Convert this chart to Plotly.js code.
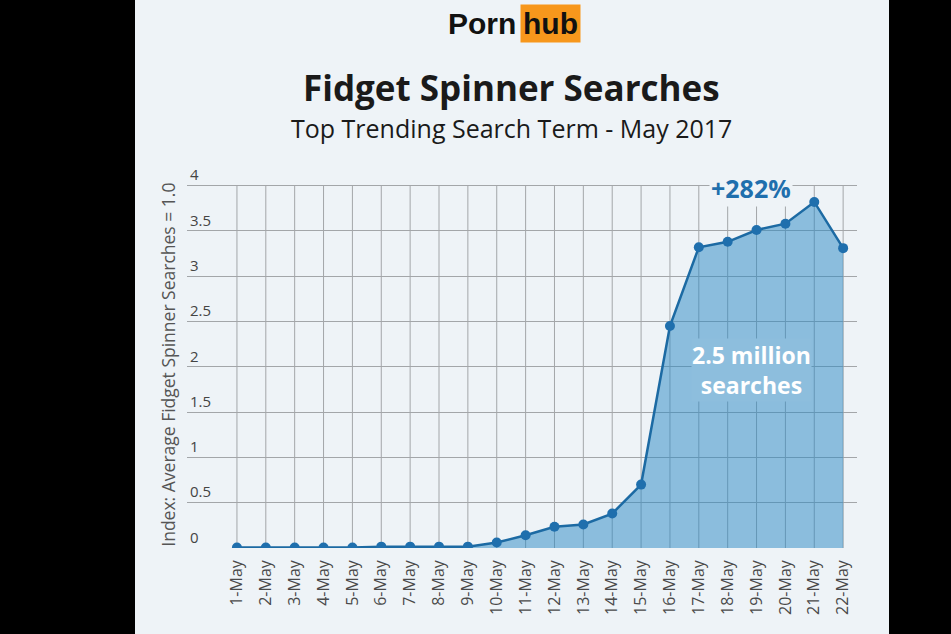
<!DOCTYPE html>
<html><head><meta charset="utf-8">
<script src="https://cdn.plot.ly/plotly-3.0.1.min.js"></script>
<style>
html,body{margin:0;padding:0;background:#000;width:951px;height:634px;overflow:hidden}
#chart{position:absolute;left:135px;top:0;width:754px;height:634px}
</style></head>
<body><div id="chart"></div>
<script>
const days = ["1-May","2-May","3-May","4-May","5-May","6-May","7-May","8-May","9-May","10-May","11-May","12-May","13-May","14-May","15-May","16-May","17-May","18-May","19-May","20-May","21-May","22-May"];
const searchIndex = [0.005,0.005,0.005,0.005,0.005,0.015,0.015,0.015,0.015,0.06,0.14,0.235,0.26,0.38,0.70,2.45,3.32,3.38,3.51,3.58,3.82,3.31];
const yTicks = [0,0.5,1,1.5,2,2.5,3,3.5,4];
const yTickText = ["0","0.5","1","1.5","2","2.5","3","3.5","4"];

const bg = "#eef3f7";
const gridColor = "#a3a6a9";
const trace = {
  x: days, y: searchIndex, type: "scatter", mode: "lines+markers",
  fill: "tozeroy", fillcolor: "rgba(40,135,195,0.5)",
  line: {color: "#1c6aa3", width: 2.5},
  marker: {color: "#1f6fad", size: 10},
  hoverinfo: "x+y"
};
// vertical grid lines stop at the top tick (4)
const vGrid = days.map(d => ({type: "line", xref: "x", yref: "y", x0: d, x1: d, y0: 0, y1: 4,
  layer: "below", line: {color: gridColor, width: 1}}));

const layout = {
  width: 754, height: 634,
  paper_bgcolor: bg, plot_bgcolor: bg,
  margin: {l: 52, r: 32, t: 163.4, b: 86},
  showlegend: false,
  font: {family: "Open Sans, sans-serif", color: "#444"},
  xaxis: {
    type: "category", range: [-1.73, 21.48],
    showgrid: false, zeroline: false, showline: false, ticks: "",
    tickangle: -90, tickfont: {size: 16, color: "#4a4a4a"}, ticklabelstandoff: 8,
    fixedrange: true
  },
  yaxis: {
    range: [0, 4.25], tickvals: yTicks, ticktext: yTickText,
    ticklabelposition: "inside top",
    showgrid: true, gridcolor: gridColor, gridwidth: 1,
    zeroline: false, showline: false, ticks: "",
    tickfont: {size: 15, color: "#444"},
    fixedrange: true
  },
  shapes: vGrid,
  annotations: [
    {xref: "paper", yref: "paper", x: -0.0284, y: 0.476, xanchor: "center", yanchor: "middle", textangle: -90, showarrow: false,
     text: "Index: Average Fidget Spinner Searches = 1.0", font: {size: 17.5, color: "#555"}},
    {xref: "paper", yref: "paper", x: 0.494, y: 1.3625, xanchor: "right", yanchor: "middle", showarrow: false,
     text: "<b>Porn</b>", font: {family: "Liberation Sans, Arial, sans-serif", size: 30, color: "#111"}},
    {xref: "paper", yref: "paper", x: 0.497, y: 1.3625, xanchor: "left", yanchor: "middle", showarrow: false,
     text: "<b>hub</b>", bgcolor: "#f7971c", borderpad: 2,
     font: {family: "Liberation Sans, Arial, sans-serif", size: 30, color: "#111"}},
    {xref: "paper", yref: "paper", x: 0.485, y: 1.196, yanchor: "middle", showarrow: false,
     text: "<b>Fidget Spinner Searches</b>", font: {size: 35, color: "#1a1a1a"}},
    {xref: "paper", yref: "paper", x: 0.485, y: 1.092, yanchor: "middle", showarrow: false,
     text: "Top Trending Search Term - May 2017", font: {size: 25, color: "#1a1a1a"}},
    {xref: "x", yref: "y", x: 17.81, y: 3.97, yanchor: "middle", showarrow: false, bgcolor: bg,
     text: "<b>+282%</b>", font: {size: 25, color: "#1f6fad"}},
    {xref: "x", yref: "y", x: 17.81, y: 1.967, yanchor: "middle", showarrow: false, bgcolor: "#8dbedd", borderpad: 0,
     text: "<b>2.5 million<br>searches</b>", font: {size: 23, color: "#ffffff"}}
  ]
};
Plotly.newPlot("chart", [trace], layout, {displayModeBar: false, staticPlot: true});
</script></body></html>
